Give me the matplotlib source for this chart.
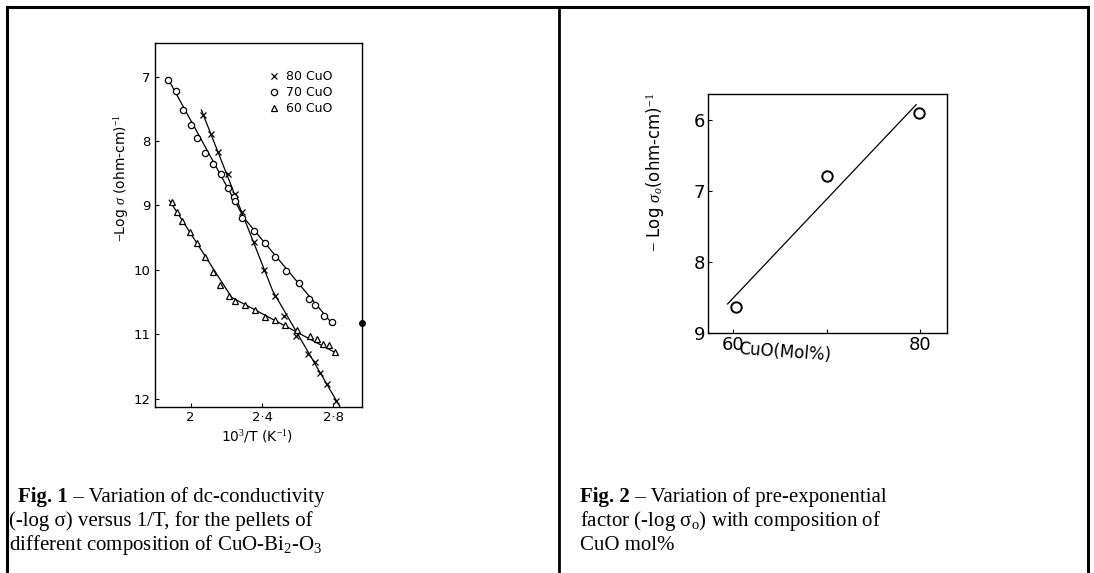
import numpy as np
import matplotlib
matplotlib.use("Agg")
import matplotlib.pyplot as plt
from matplotlib.lines import Line2D

plt.rcParams['mathtext.fontset'] = 'custom'
plt.rcParams['mathtext.rm'] = 'Liberation Serif'
plt.rcParams['mathtext.it'] = 'Liberation Serif:italic'

# Fig. 1 data: -log(sigma) vs 10^3/T
x80 = [2.071, 2.112, 2.153, 2.211, 2.247, 2.285, 2.354, 2.413, 2.471, 2.525,
       2.591, 2.655, 2.698, 2.726, 2.764, 2.816]
y80 = [7.60, 7.90, 8.17, 8.51, 8.83, 9.10, 9.57, 10.00, 10.41, 10.71,
       11.03, 11.30, 11.43, 11.60, 11.77, 12.03]
x70 = [1.875, 1.916, 1.959, 2.000, 2.037, 2.080, 2.125, 2.168, 2.208, 2.242,
       2.251, 2.289, 2.354, 2.416, 2.473, 2.535, 2.605, 2.661, 2.698, 2.745, 2.792]
y70 = [7.05, 7.23, 7.52, 7.76, 7.96, 8.18, 8.36, 8.52, 8.73, 8.87,
       8.94, 9.20, 9.40, 9.59, 9.80, 10.02, 10.20, 10.45, 10.55, 10.71, 10.81]
x60 = [1.894, 1.926, 1.954, 1.996, 2.034, 2.079, 2.127, 2.162, 2.214, 2.251,
       2.303, 2.359, 2.419, 2.475, 2.527, 2.596, 2.666, 2.708, 2.741, 2.773, 2.810]
y60 = [8.95, 9.10, 9.24, 9.42, 9.59, 9.80, 10.03, 10.24, 10.41, 10.49,
       10.55, 10.63, 10.73, 10.78, 10.86, 10.94, 11.03, 11.07, 11.15, 11.17, 11.28]
# hand-drawn fit lines (knots)
fit80_x = [2.06, 2.46, 2.835]
fit80_y = [7.52, 10.33, 12.12]
fit70_x = [1.87, 2.30, 2.80]
fit70_y = [7.02, 9.20, 10.86]
fit60_x = [1.88, 2.23, 2.82]
fit60_y = [8.92, 10.43, 11.30]
fig1_xticks = [2.0, 2.4, 2.8]
fig1_xticklabels = ['2', '2·4', '2·8']
fig1_yticks = [7, 8, 9, 10, 11, 12]

# Fig. 2 data: -log(sigma_o) vs CuO mol%
cuo = [60.3, 70.0, 79.9]
logsig0 = [8.64, 6.79, 5.90]
fit2_x = [59.4, 79.6]
fit2_y = [8.59, 5.78]
fig2_xticks = [60, 70, 80]
fig2_xticklabels = ['60', '', '80']
fig2_yticks = [6, 7, 8, 9]

fig = plt.figure(figsize=(10.94, 5.73), dpi=100)

# table-like border
def fig_line(xs, ys, lw=2.0, color='black'):
    fig.add_artist(Line2D([x / 1094 for x in xs], [1 - y / 573 for y in ys],
                          lw=lw, color=color, transform=fig.transFigure))

fig_line([7, 1088], [7, 7], lw=2.2)
fig_line([7, 7], [7, 573], lw=2.2)
fig_line([1088, 1088], [7, 573], lw=2.2)
fig_line([559, 559], [10, 573], lw=2.0)

# ---- Fig. 1 ----
ax1 = fig.add_axes([155 / 1094, 1 - 407 / 573, (362 - 155) / 1094, (407 - 43) / 573])
ax1.plot(fit80_x, fit80_y, color='black', lw=0.9)
ax1.plot(fit70_x, fit70_y, color='black', lw=0.9)
ax1.plot(fit60_x, fit60_y, color='black', lw=0.9)
ax1.plot(x80, y80, 'x', ms=5, mew=0.9, color='black', label='80 CuO')
ax1.plot(x70, y70, 'o', ms=4.5, mew=0.9, mfc='white', color='black', label='70 CuO')
ax1.plot(x60, y60, '^', ms=4.5, mew=0.9, mfc='white', color='black', label='60 CuO')
# stray dot on the right spine of the scan
ax1.plot([2.96], [10.83], 'o', ms=4, color='black', clip_on=False)
ax1.set_xlim(1.80, 2.96)
ax1.set_ylim(12.13, 6.48)
ax1.set_xticks(fig1_xticks)
ax1.set_xticklabels(fig1_xticklabels)
ax1.set_yticks(fig1_yticks)
ax1.tick_params(direction='in', length=3, labelsize=9.5, width=0.8, pad=3)
for s in ax1.spines.values():
    s.set_linewidth(1.0)
ax1.legend(loc='upper right', frameon=False, fontsize=9, handlelength=0.8,
           handletextpad=0.6, labelspacing=0.25, borderaxespad=0.6,
           bbox_to_anchor=(0.92, 0.96))
fig.text(122 / 1094, 1 - 178 / 573, r'$-$Log $\sigma$ (ohm-cm)$^{-1}$',
         rotation=90, ha='center', va='center', fontsize=10,
         family='DejaVu Sans')
fig.text(257 / 1094, 1 - 437 / 573, r'10$^3$/T (K$^{-1}$)',
         ha='center', va='center', fontsize=10, family='DejaVu Sans')

# ---- Fig. 2 ----
ax2 = fig.add_axes([708 / 1094, 1 - 333 / 573, (947 - 708) / 1094, (333 - 94) / 573])
ax2.plot(fit2_x, fit2_y, color='black', lw=0.9)
ax2.plot(cuo, logsig0, 'o', ms=7.5, mew=1.4, mfc='white', color='black')
ax2.set_xlim(57.3, 82.9)
ax2.set_ylim(9.0, 5.63)
ax2.set_xticks(fig2_xticks)
ax2.set_xticklabels(fig2_xticklabels)
ax2.set_yticks(fig2_yticks)
ax2.tick_params(direction='in', length=3, labelsize=13, width=0.8, pad=2)
for s in ax2.spines.values():
    s.set_linewidth(1.0)
fig.text(655 / 1094, 1 - 172 / 573, r'$-$ Log $\sigma_o$(ohm-cm)$^{-1}$',
         rotation=90, ha='center', va='center', fontsize=12,
         family='DejaVu Sans')
fig.text(785 / 1094, 1 - 352 / 573, 'CuO(Mol%)', rotation=-4,
         ha='center', va='center', fontsize=12, family='DejaVu Sans')

# ---- captions ----
cap_fs = 15
renderer = fig.canvas.get_renderer()

def caption(x, y, bold, rest):
    t = fig.text(x / 1094, 1 - y / 573, bold, fontsize=cap_fs, fontweight='bold',
                 family='Liberation Serif', va='center', ha='left')
    bb = t.get_window_extent(renderer=renderer)
    fig.text(bb.x1 / fig.bbox.width, 1 - y / 573, rest, fontsize=cap_fs,
             family='Liberation Serif', va='center', ha='left')

def plain(x, y, s):
    fig.text(x / 1094, 1 - y / 573, s, fontsize=cap_fs,
             family='Liberation Serif', va='center', ha='left')

caption(18, 497, 'Fig. 1', ' – Variation of dc-conductivity')
plain(9, 521, '(-log σ) versus 1/T, for the pellets of')
plain(9, 545, r'different composition of CuO-Bi$_2$-O$_3$')

caption(580, 497, 'Fig. 2', ' – Variation of pre-exponential')
plain(580, 521, r'factor (-log σ$_{\rm o}$) with composition of')
plain(580, 545, 'CuO mol%')

fig.savefig('out.png', dpi=100)
